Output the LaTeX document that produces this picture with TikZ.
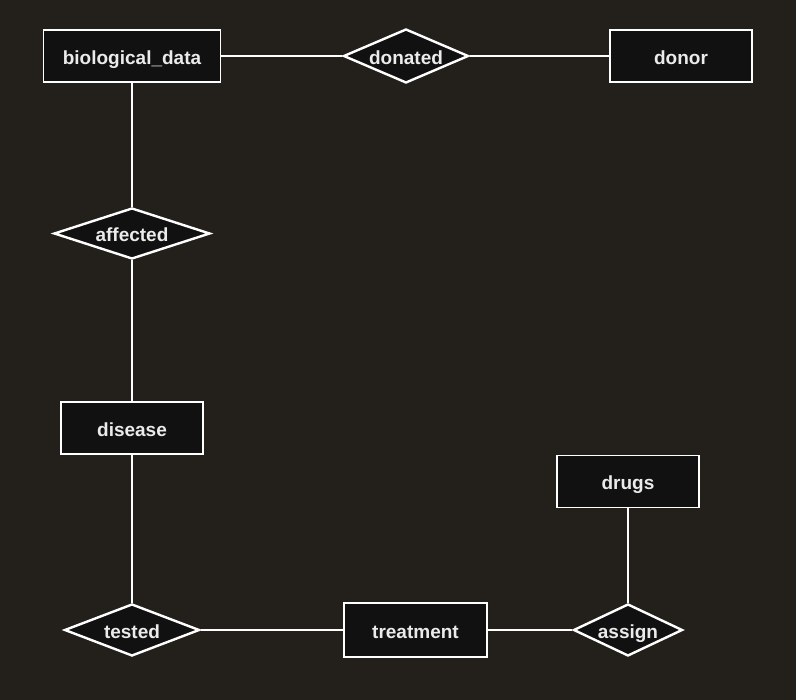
\documentclass[tikz,border=0pt]{standalone}
\usepackage{fontspec}
\setmainfont{Liberation Sans}
\usetikzlibrary{shapes.geometric}
\definecolor{bgdark}{HTML}{23201C}
\definecolor{boxfill}{HTML}{111111}
\begin{document}
\begin{tikzpicture}[x=1pt,y=-1pt,
    entity/.style={draw=white,line width=1.5pt,fill=boxfill,text=white!92!black,minimum height=52pt,inner sep=0pt,text height=19pt,text depth=2pt,font=\fontsize{19}{22}\selectfont\bfseries},
    relation/.style={draw=white,line width=2.4pt,fill=boxfill,text=white!92!black,shape=diamond,inner sep=0pt,text height=19pt,text depth=2pt,font=\fontsize{19}{22}\selectfont\bfseries},
    link/.style={draw=white,line width=1.4pt}]
    \fill[bgdark] (0,0) rectangle (796,700);
    \useasboundingbox (0,0) rectangle (796,700);
    % entities
    \node[entity,minimum width=177pt] (bio) at (132,56) {biological\_data};
    \node[entity,minimum width=142pt] (donor) at (681,56) {donor};
    \node[entity,minimum width=142pt] (disease) at (132,428) {disease};
    \node[entity,minimum width=142pt] (drugs) at (628,481.5) {drugs};
    \node[entity,minimum width=143pt,minimum height=54pt] (treatment) at (415.5,630) {treatment};
    % relations
    \node[relation,aspect=2.3,minimum width=125pt,minimum height=54pt] (donated) at (406,56) {donated};
    \node[relation,aspect=3.0,minimum width=156pt,minimum height=51pt] (affected) at (132,233.5) {affected};
    \node[relation,aspect=2.6,minimum width=135pt,minimum height=52pt] (tested) at (132,630) {tested};
    \node[relation,aspect=2.1,minimum width=109pt,minimum height=52pt] (assign) at (628,630) {assign};
    % links
    \draw[link] (bio) -- (donated);
    \draw[link] (donated) -- (donor);
    \draw[link] (bio) -- (affected);
    \draw[link] (affected) -- (disease);
    \draw[link] (disease) -- (tested);
    \draw[link] (tested) -- (treatment);
    \draw[link] (treatment) -- (assign);
    \draw[link] (assign) -- (drugs);
\end{tikzpicture}
\end{document}
